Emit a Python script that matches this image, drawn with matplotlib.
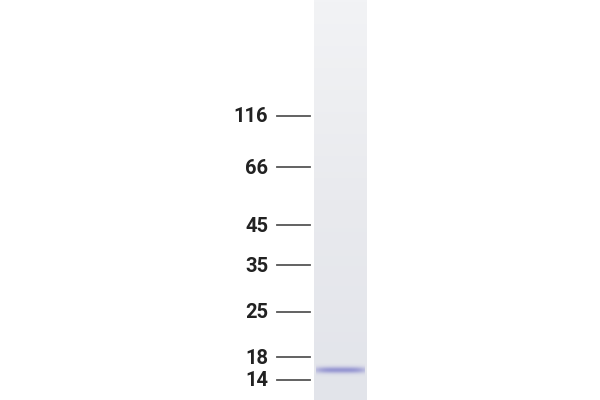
import numpy as np
import matplotlib.pyplot as plt; plt.switch_backend('agg')
from matplotlib.colors import LinearSegmentedColormap

# molecular weight ladder (kDa) and where each marker runs on the gel (pixels from top)
mw_labels = ["116", "66", "45", "35", "25", "18", "14"]
mw_pos = [116, 167, 225, 265, 312, 357, 380]

# the single band in the sample lane
band_pos = 370.5
band_strength = 0.9

fig = plt.figure(figsize=(6, 4), dpi=100)
ax = fig.add_axes([0, 0, 1, 1])
ax.set_xlim(0, 600)
ax.set_ylim(400, 0)
ax.axis('off')

### lane background, slightly darker towards the bottom
lane_cmap = LinearSegmentedColormap.from_list(
    "lane", ["#f2f3f5", "#e9eaee", "#e2e4ea"])
grad = np.linspace(0, 1, 200).reshape(-1, 1)
ax.imshow(grad, cmap=lane_cmap, aspect='auto', extent=(314, 367, 400, 0), zorder=1)

### band
band_cmap = LinearSegmentedColormap.from_list(
    "band", [(0.89, 0.9, 0.93, 0.0), (0.52, 0.52, 0.80, 1.0)])
yy = np.linspace(-1, 1, 60).reshape(-1, 1)
xx = np.linspace(-1, 1, 120).reshape(1, -1)
prof = np.exp(-(yy * 1.5) ** 2) * (1 - 0.3 * np.abs(xx) ** 4) * band_strength
ax.imshow(prof, cmap=band_cmap, vmin=0, vmax=1, aspect='auto',
          extent=(316, 365, band_pos + 7, band_pos - 7), zorder=2, interpolation='bilinear')

### ladder ticks and labels
for lab, y in zip(mw_labels, mw_pos):
    ax.plot([277, 310], [y, y], color="#555555", lw=1.3, zorder=3)
    ax.text(268, y + 1, lab, ha='right', va='center', fontsize=14.5,
            fontweight='bold', color="#222222", family="Roboto")

fig.savefig("out.png", dpi=100)
